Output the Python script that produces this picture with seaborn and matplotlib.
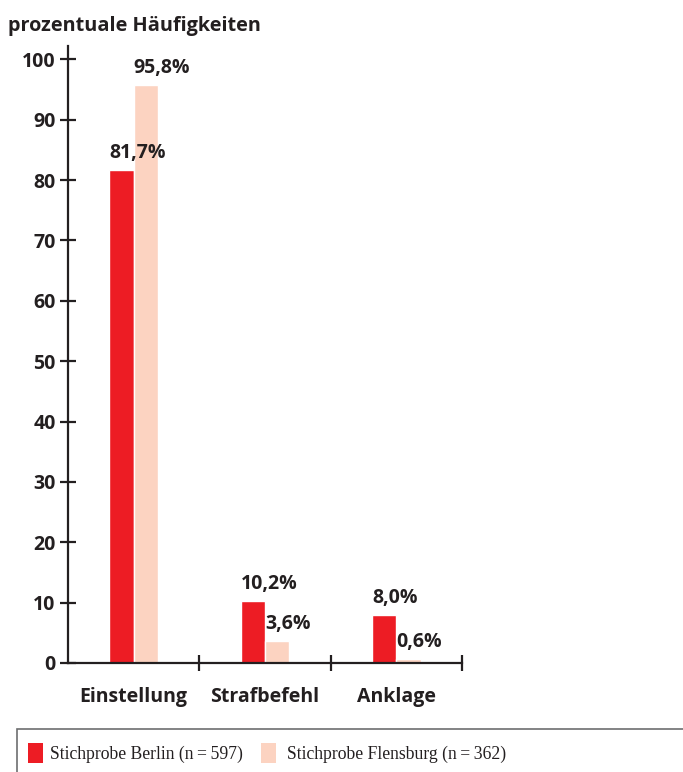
import matplotlib
matplotlib.use("Agg")
import matplotlib.pyplot as plt
import matplotlib.patches as mpatches
import pandas as pd
import seaborn as sns

# data
categories = ["Einstellung", "Strafbefehl", "Anklage"]
berlin = [81.7, 10.2, 8.0]
flensburg = [95.8, 3.6, 0.6]
series_labels = ["Stichprobe Berlin (n\u2009=\u2009597)", "Stichprobe Flensburg (n\u2009=\u2009362)"]
yticks = [0, 10, 20, 30, 40, 50, 60, 70, 80, 90, 100]

RED = "#ED1C24"
PEACH = "#FCD3C1"
INK = "#231F20"

df = pd.DataFrame({
    "Kategorie": categories * 2,
    "Prozent": berlin + flensburg,
    "Stichprobe": [series_labels[0]] * 3 + [series_labels[1]] * 3,
})

sns.set_style("white")
plt.rcParams["font.family"] = ["Open Sans", "DejaVu Sans"]

W, H = 683, 772
fig = plt.figure(figsize=(W / 100, H / 100), dpi=100)
ax = fig.add_axes([68 / W, 1 - 663 / H, (462 - 68) / W, (663 - 46) / H])

sns.barplot(
    data=df, x="Kategorie", y="Prozent", hue="Stichprobe",
    palette=[RED, PEACH], width=0.37, saturation=1, legend=False, ax=ax,
)

ax.set_xlim(-0.5, 2.5)
ax.set_ylim(0, 102.2)
ax.set_xlabel("")
ax.set_ylabel("")

for side in ["top", "right"]:
    ax.spines[side].set_visible(False)
for side in ["left", "bottom"]:
    ax.spines[side].set_color(INK)
    ax.spines[side].set_linewidth(1.6)

ax.set_yticks(yticks)
ax.set_yticklabels([str(t) for t in yticks])
ax.tick_params(axis="y", left=True, direction="inout", length=12, width=1.6, color=INK,
               labelsize=14, labelcolor=INK, pad=3)
ax.tick_params(axis="x", which="major", bottom=False, length=0, labelsize=14,
               labelcolor=INK, pad=17)
ax.set_xticks([0.5, 1.5, 2.5], minor=True)
ax.tick_params(axis="x", which="minor", bottom=True, direction="inout", length=12,
               width=1.6, color=INK)
for lab in ax.get_xticklabels() + ax.get_yticklabels():
    lab.set_fontweight("bold")

# value labels, left aligned on each bar
for container, values in zip(ax.containers, [berlin, flensburg]):
    for bar, v in zip(container, values):
        ax.annotate(f"{v:.1f}".replace(".", ",") + "%",
                    xy=(bar.get_x(), bar.get_height()), xytext=(0, 5),
                    textcoords="offset points", ha="left", va="bottom",
                    fontsize=14, fontweight="bold", color=INK)

fig.text(8 / W, 1 - 31 / H, "prozentuale Häufigkeiten", fontsize=14.3,
         fontweight="bold", color=INK, ha="left", va="baseline")

# legend box running off the right and bottom edge
fig.patches.append(mpatches.Rectangle((17 / W, -0.05), 1.0, 0.05 + 43 / H,
                                      transform=fig.transFigure, fill=False,
                                      edgecolor="#6D6E70", linewidth=1.2))
for (px, tx), color, label in zip([(28, 50), (261, 287)], [RED, PEACH], series_labels):
    fig.patches.append(mpatches.Rectangle((px / W, 1 - 763 / H), 15 / W, 20 / H,
                                          transform=fig.transFigure,
                                          facecolor=color, edgecolor="none"))
    fig.text(tx / W, 1 - 754 / H, label, fontsize=12.7, color=INK,
             family=["Liberation Serif", "DejaVu Serif"], ha="left", va="center")

fig.savefig("out.png", dpi=100)
